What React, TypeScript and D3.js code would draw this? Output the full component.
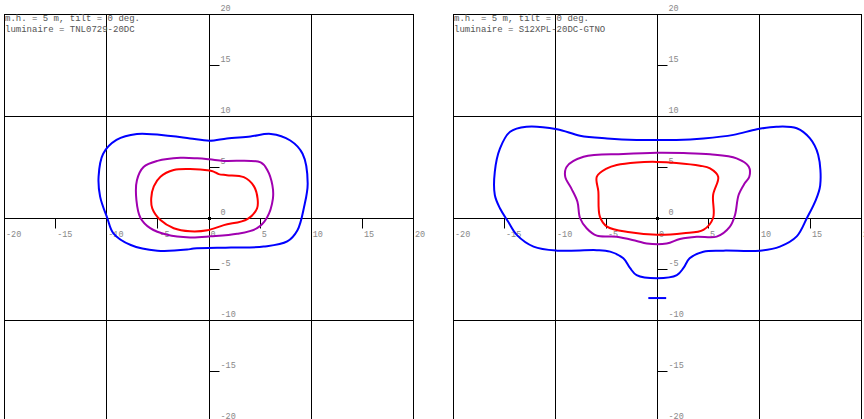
import React from "react";
import * as d3 from "d3";

type Pt = [number, number];

const titleLine1 = "m.h. = 5 m, tilt = 0 deg.";
const luminaireA = "luminaire = TNL0729-20DC";
const luminaireB = "luminaire = S12XPL-20DC-GTNO";

const axisTicks = [-20, -15, -10, -5, 0, 5, 10, 15, 20];
const gridLines = [-20, -10, 0, 10, 20];

// left chart contours (metres)
const leftBlue: Pt[] = [
  [0.1, 7.58], [1.8, 7.8], [4.1, 8.0], [6.1, 8.24], [8.0, 7.6], [9.2, 6.3], [9.7, 3.4],
  [9.35, 1.1], [8.7, -1.2], [7.7, -2.3], [5.4, -2.8], [2.2, -2.9], [-1.45, -3.0],
  [-2.1, -3.1], [-5.0, -3.2], [-7.6, -2.65], [-9.3, -1.5], [-9.9, 0], [-10.6, 2.1],
  [-10.75, 4.05], [-10.3, 6.3], [-9.0, 7.65], [-7.0, 8.24], [-3.7, 8.04], [-1.8, 7.8],
];
const leftPurple: Pt[] = [
  [0.1, 5.75], [1.5, 5.6], [5.1, 5.45], [5.75, 4.7], [6.25, 3.2], [6.3, 1.9], [5.7, 0],
  [4.75, -1.0], [2.8, -1.55], [0.2, -1.8], [-1.8, -1.9], [-4.05, -1.65], [-5.7, -1.0],
  [-6.65, 0], [-7.05, 1.75], [-7.0, 3.7], [-6.35, 5.0], [-5.0, 5.6], [-2.75, 5.9], [-1.1, 5.85],
];
const leftRed: Pt[] = [
  [0.1, 4.65], [0.5, 4.55], [1.0, 4.3], [1.8, 4.2], [3.45, 4.0], [4.45, 3.1], [4.8, 1.9],
  [4.75, 0.95], [3.8, -0.1], [1.5, -0.7], [-0.1, -1.2], [-1.8, -1.3], [-3.4, -1.0],
  [-4.7, -0.2], [-5.5, 0.95], [-5.6, 1.95], [-5.35, 3.1], [-4.7, 4.05], [-3.4, 4.7], [-1.8, 4.8],
];

// right chart contours (metres)
const rightBlue: Pt[] = [
  [0, 7.65], [1.9, 7.65], [4.55, 7.8], [7.5, 8.15], [9.8, 8.7], [11.7, 8.95], [13.7, 8.8],
  [15.0, 7.8], [15.8, 6.2], [16.0, 3.2], [15.5, 1.6], [14.7, 0], [13.7, -1.8], [12.05, -2.8],
  [10.1, -3.2], [6.5, -3.2], [4.55, -3.3], [3.2, -3.95], [2.6, -4.9], [1.95, -5.6], [0, -5.9],
  [-2.0, -5.6], [-2.65, -4.9], [-3.3, -3.95], [-4.6, -3.3], [-5.9, -3.15], [-9.8, -3.2],
  [-12.1, -2.8], [-13.75, -1.65], [-14.6, -0.35], [-15.4, 0.95], [-15.9, 2.25], [-15.9, 4.55],
  [-15.4, 6.8], [-14.4, 8.46], [-12.8, 8.95], [-9.8, 8.7], [-7.55, 8.07], [-4.9, 7.8], [-2.0, 7.65],
];
const rightBlueIsland: Pt[] = [[-0.85, -7.85], [0.9, -7.85]];
const rightPurple: Pt[] = [
  [0, 6.4], [2.6, 6.37], [5.2, 6.25], [7.8, 5.85], [9.0, 5.03], [9.05, 4.05], [8.6, 3.4],
  [8.0, 2.25], [7.65, 0.3], [7.15, -0.85], [5.85, -1.83], [3.9, -1.83], [2.25, -2.05],
  [0.95, -2.5], [-1.0, -2.5], [-2.0, -2.25], [-3.95, -1.83], [-5.9, -1.73], [-6.9, -1.0],
  [-7.55, 0], [-7.8, 1.6], [-8.4, 2.9], [-9.0, 4.05], [-8.85, 5.03], [-7.2, 6.0], [-3.3, 6.27],
];
const rightRed: Pt[] = [
  [0, 5.5], [1.9, 5.4], [4.2, 5.13], [5.2, 4.87], [6.0, 4.05], [5.5, 2.25], [5.5, 0],
  [4.55, -1.17], [2.6, -1.5], [0, -1.65], [-2.65, -1.4], [-4.9, -0.85], [-5.6, 0.13],
  [-5.75, 2.6], [-5.9, 4.05], [-4.9, 4.87], [-3.95, 5.2], [-2.0, 5.45],
];

const BLUE = "#0000ff";
const PURPLE = "#a000b0";
const RED = "#ff0000";

type Contour = { pts: Pt[]; color: string; closed: boolean };

function Panel({ left, right, luminaire, contours }: { left: number; right: number; luminaire: string; contours: Contour[] }) {
  const x = d3.scaleLinear().domain([-20, 20]).range([left, right]);
  const y = d3.scaleLinear().domain([20, -20]).range([14, 422]);
  const closedLine = d3.line<Pt>().x(d => x(d[0])).y(d => y(d[1])).curve(d3.curveCatmullRomClosed.alpha(0.5));
  const openLine = d3.line<Pt>().x(d => x(d[0])).y(d => y(d[1]));
  const x0 = Math.round(x(0)) + 0.5;
  const y0 = Math.round(y(0)) + 0.5;

  return (
    <g>
      {/* grid */}
      {gridLines.map(v => (
        <line key={"v" + v} x1={Math.round(x(v)) + 0.5} x2={Math.round(x(v)) + 0.5} y1={14} y2={430} stroke="#000" />
      ))}
      {gridLines.filter(v => v < 20 && v > -20).map(v => (
        <line key={"h" + v} x1={x(-20)} x2={x(20)} y1={Math.round(y(v)) + 0.5} y2={Math.round(y(v)) + 0.5} stroke="#000" />
      ))}
      <line x1={x(-20)} x2={x(20) + 1} y1={14.5} y2={14.5} stroke="#000" />

      {/* minor ticks */}
      {axisTicks.filter(v => v % 10 !== 0).map(v => (
        <g key={"t" + v}>
          <line x1={Math.round(x(v)) + 0.5} x2={Math.round(x(v)) + 0.5} y1={y0} y2={y0 + 10} stroke="#000" />
          <line x1={x0} x2={x0 + 10} y1={Math.round(y(v)) + 0.5} y2={Math.round(y(v)) + 0.5} stroke="#000" />
        </g>
      ))}

      {/* tick labels */}
      <g fontFamily="'Liberation Mono', monospace" fontSize={8.5} fill="#888">
        {axisTicks.map(v => (
          <text key={"xl" + v} x={x(v) + 2} y={y0 + 18}>{v === 0 ? "" : String(v)}</text>
        ))}
        <text x={x(0) + 2} y={y0 + 18}>0</text>
        {axisTicks.map(v => (
          <text key={"yl" + v} x={x0 + 11} y={y(v) - 3}>{String(v)}</text>
        ))}
      </g>

      <rect x={x0 - 1.5} y={y0 - 1.5} width={3} height={3} fill="#000" />

      {/* contours */}
      {contours.map((c, i) => (
        <path key={i} d={(c.closed ? closedLine : openLine)(c.pts) ?? ""} fill="none" stroke={c.color} strokeWidth={2} strokeLinejoin="round" />
      ))}

      <g fontFamily="'Liberation Mono', monospace" fontSize={9} fill="#555">
        <text x={left + 1} y={21}>{titleLine1}</text>
        <text x={left + 1} y={32}>{luminaire}</text>
      </g>
    </g>
  );
}

export default function App() {
  return (
    <svg width={864} height={419} style={{ position: "absolute", left: 0, top: 0, background: "#fff" }}>
      <rect width={864} height={419} fill="#fff" />
      <Panel
        left={4}
        right={413}
        luminaire={luminaireA}
        contours={[
          { pts: leftBlue, color: BLUE, closed: true },
          { pts: leftPurple, color: PURPLE, closed: true },
          { pts: leftRed, color: RED, closed: true },
        ]}
      />
      <Panel
        left={453}
        right={861}
        luminaire={luminaireB}
        contours={[
          { pts: rightBlue, color: BLUE, closed: true },
          { pts: rightBlueIsland, color: BLUE, closed: false },
          { pts: rightPurple, color: PURPLE, closed: true },
          { pts: rightRed, color: RED, closed: true },
        ]}
      />
    </svg>
  );
}
